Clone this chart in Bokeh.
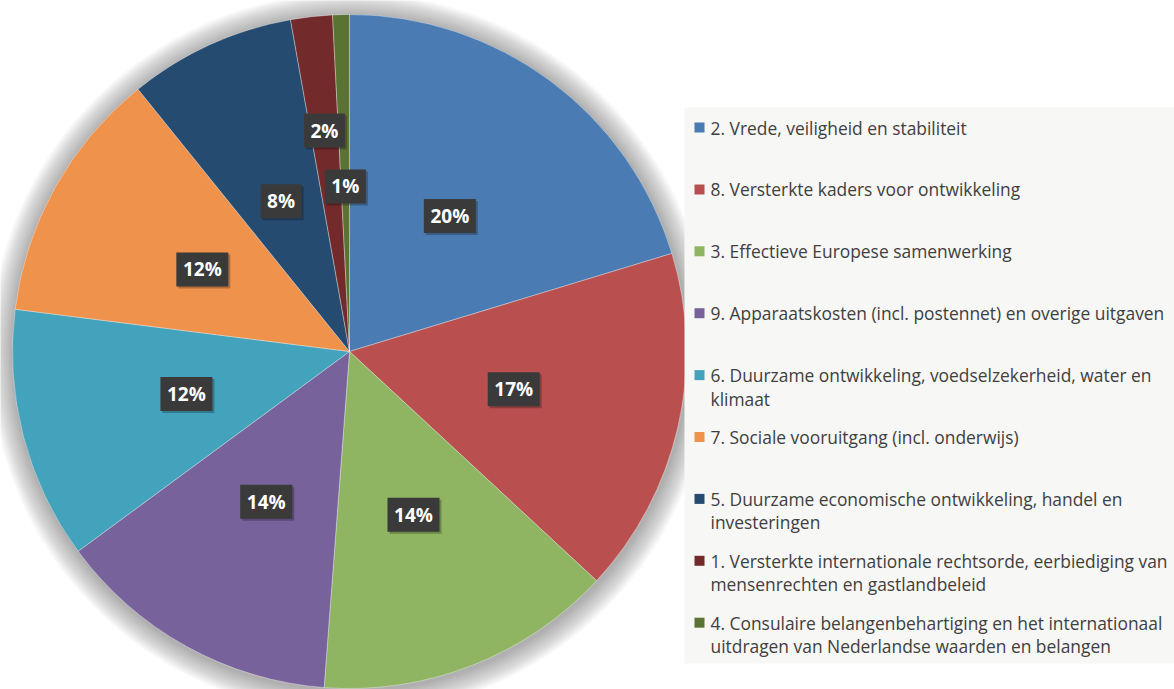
import math
from bokeh.plotting import figure
from bokeh.models import ColumnDataSource, Range1d
from bokeh.core.properties import value
from bokeh.embed import file_html
from bokeh.resources import INLINE

# ---- data ----
categories = [
    "2. Vrede, veiligheid en stabiliteit",
    "8. Versterkte kaders voor ontwikkeling",
    "3. Effectieve Europese samenwerking",
    "9. Apparaatskosten (incl. postennet) en overige uitgaven",
    "6. Duurzame ontwikkeling, voedselzekerheid, water en\nklimaat",
    "7. Sociale vooruitgang (incl. onderwijs)",
    "5. Duurzame economische ontwikkeling, handel en\ninvesteringen",
    "1. Versterkte internationale rechtsorde, eerbiediging van\nmensenrechten en gastlandbeleid",
    "4. Consulaire belangenbehartiging en het internationaal\nuitdragen van Nederlandse waarden en belangen",
]
shares = [20.3, 16.6, 14.3, 13.7, 12.1, 12.2, 8.0, 2.0, 0.8]
colors = ["#4a7bb2", "#b9504f", "#8fb462", "#77629c", "#44a3bc",
          "#ee924c", "#264b71", "#732a2b", "#5a7333"]
# label distance from centre as fraction of radius (style)
label_rf = [0.5, 0.5, 0.52, 0.51, 0.5, 0.5, 0.49, 0.66, 0.49]

W, H = 1174, 689
p = figure(width=W, height=H, output_backend="svg", toolbar_location=None,
           x_range=Range1d(0, W), y_range=Range1d(0, H), min_border=0)
p.axis.visible = False
p.grid.visible = False
p.outline_line_color = None
p.background_fill_color = "white"
p.border_fill_color = "white"

cx, cy, R = 349, 338, 337

# soft shadow / glow
for k in range(24, 0, -1):
    p.circle(x=[cx + 1], y=[cy - 2], radius=R + k, fill_color="#606060",
             fill_alpha=0.028, line_color=None)

total = sum(shares)
starts, ends, lx, ly, labels = [], [], [], [], []
cum = 0.0
for i, s in enumerate(shares):
    a0 = math.pi / 2 - 2 * math.pi * cum / total
    cum += s
    a1 = math.pi / 2 - 2 * math.pi * cum / total
    starts.append(a1)
    ends.append(a0)
    mid = (a0 + a1) / 2
    lx.append(cx + label_rf[i] * R * math.cos(mid))
    ly.append(cy + label_rf[i] * R * math.sin(mid))
    labels.append(f"{round(s)}%")

src = ColumnDataSource(dict(start=starts, end=ends, color=colors))
p.wedge(x=cx, y=cy, radius=R, start_angle="start", end_angle="end",
        fill_color="color", line_color="white", line_alpha=0.35, line_width=1,
        source=src)

# data labels
bw = [52 if len(t) > 2 else 41 for t in labels]
lsrc = ColumnDataSource(dict(x=lx, y=ly, t=labels, w=bw))
p.rect(x="x", y="y", width="w", height=34, width_units="screen", height_units="screen",
       fill_color="black", fill_alpha=0.25, line_color=None,
       source=ColumnDataSource(dict(x=[v + 2 for v in lx], y=[v - 2 for v in ly], w=bw)))
p.rect(x="x", y="y", width="w", height=34, width_units="screen", height_units="screen",
       fill_color="#3a3a3a", line_color=None, source=lsrc)
p.text(x="x", y="y", text="t", text_color="white", text_font=value("Open Sans"),
       text_font_style="bold", text_font_size="19px", text_align="center",
       text_baseline="middle", source=lsrc)

# legend
p.quad(left=684, right=W, bottom=26, top=582, fill_color="#f7f7f5", line_color=None)
row0, step, line_h = 562, 61.9, 23.5
mx, my, tx, tl, tt = [], [], [], [], []
for i, c in enumerate(categories):
    y0 = row0 - i * step
    mx.append(699)
    my.append(y0)
    for j, line in enumerate(c.split("\n")):
        tx.append(710)
        tl.append(line)
        tt.append(y0 - j * line_h)
p.rect(x=mx, y=my, width=10, height=10, width_units="screen", height_units="screen",
       fill_color=colors, line_color=None)
p.text(x=tx, y=tt, text=tl, text_color="#404040", text_font=value("Open Sans"),
       text_font_size="17.4px", text_align="left", text_baseline="middle")

open("out.html", "w").write(file_html(p, INLINE))
